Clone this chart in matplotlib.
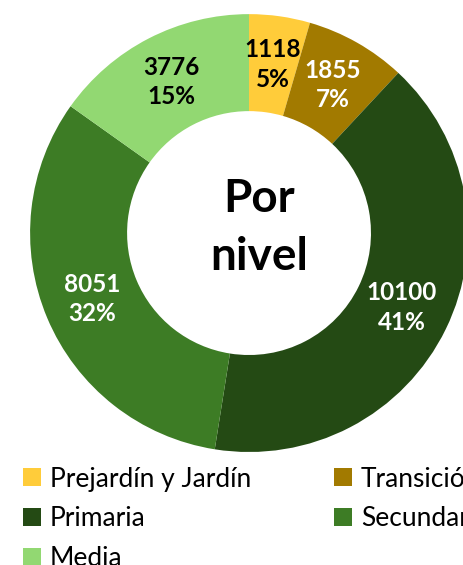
import matplotlib
matplotlib.use("Agg")
import matplotlib.pyplot as plt
from matplotlib.patches import Patch
import numpy as np

categories = ["Prejardín y Jardín", "Transición", "Primaria", "Secundaria", "Media"]
values = [1118, 1855, 10100, 8051, 3776]
percent_labels = ["5%", "7%", "41%", "32%", "15%"]
colors = ["#FFCC3A", "#A27A00", "#244A14", "#3D7C25", "#92D872"]
label_colors = ["black", "white", "white", "white", "black"]
center_lines = ["Por", "nivel"]

plt.rcParams["font.family"] = ["Lato", "DejaVu Sans"]

fig = plt.figure(figsize=(4.64, 5.65), dpi=100)
ax = fig.add_axes([0.0647, 0.2, 0.944, 0.775])
wedges, _ = ax.pie(values, colors=colors, startangle=90, counterclock=False,
                   radius=1.0, wedgeprops=dict(width=0.443, linewidth=0))
ax.set_xlim(-1, 1)
ax.set_ylim(-1, 1)
ax.set_aspect("equal")

total = sum(values)
cum = 0
for v, pl, lc in zip(values, percent_labels, label_colors):
    mid = 90 - 360 * (cum + v / 2) / total
    cum += v
    r = 0.777
    x = r * np.cos(np.radians(mid))
    y = r * np.sin(np.radians(mid))
    ax.text(x, y, f"{v}\n{pl}", ha="center", va="center", color=lc,
            fontsize=17.5, fontweight="bold", linespacing=1.35)

ax.text(0.047, 0.096, center_lines[0], ha="center", va="baseline", fontsize=33,
        fontweight="bold")
ax.text(0.047, -0.169, center_lines[1], ha="center", va="baseline", fontsize=33,
        fontweight="bold")

order = [0, 2, 4, 1, 3]
handles = [Patch(facecolor=colors[i], edgecolor="none") for i in order]
labels = [categories[i] for i in order]
fig.legend(handles, labels, loc="upper left", bbox_to_anchor=(0.027, 0.193),
           ncol=2, frameon=False, fontsize=19, handlelength=0.68, handleheight=0.68,
           handletextpad=0.33, columnspacing=3.15, labelspacing=0.56, borderaxespad=0)

fig.savefig("out.png", dpi=100)
